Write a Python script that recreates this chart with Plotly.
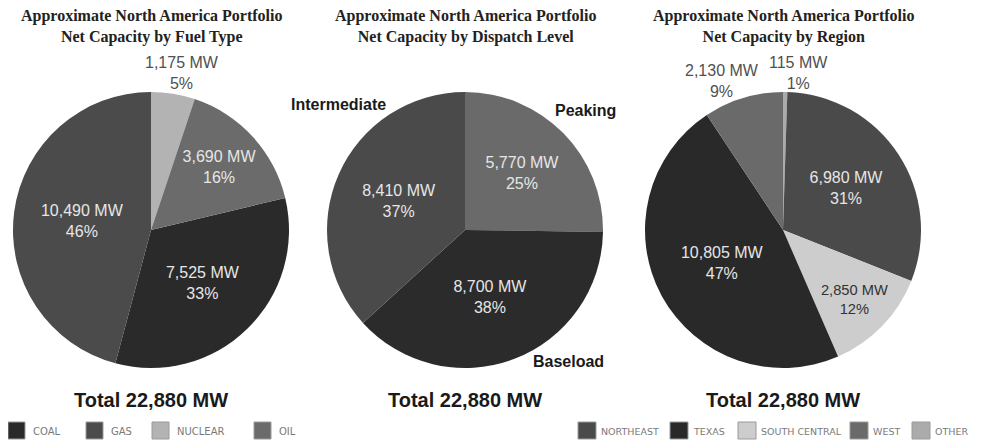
import plotly.graph_objects as go

# ---------------- data ----------------
fuel_labels = ["COAL", "GAS", "NUCLEAR", "OIL"]
fuel_mw = [7525, 10490, 1175, 3690]
fuel_colors = ["#2a2a2a", "#4b4b4b", "#b3b3b3", "#6b6b6b"]
fuel_textpos = ["inside", "inside", "none", "inside"]

dispatch_labels = ["Peaking", "Baseload", "Intermediate"]
dispatch_mw = [5770, 8700, 8410]
dispatch_colors = ["#6a6a6a", "#2b2b2b", "#4a4a4a"]

region_labels = ["OTHER", "NORTHEAST", "SOUTH CENTRAL", "TEXAS", "WEST"]
region_mw = [115, 6980, 2850, 10805, 2130]
region_colors = ["#ababab", "#4a4a4a", "#cdcdcd", "#292929", "#6a6a6a"]
region_textpos = ["none", "inside", "inside", "inside", "none"]
region_legend_order = ["NORTHEAST", "TEXAS", "SOUTH CENTRAL", "WEST", "OTHER"]

titles = [
    "Approximate North America Portfolio<br>Net Capacity by Fuel Type",
    "Approximate North America Portfolio<br>Net Capacity by Dispatch Level",
    "Approximate North America Portfolio<br>Net Capacity by Region",
]
total_text = "Total {:,} MW".format(sum(fuel_mw))

# ---------------- layout geometry (screen pixels) ----------------
OFF = 8                     # default page margin around the plot div
W, H = 982 - OFF, 440 - OFF  # figure size
R = 138
CY = 230
CX = [151, 465, 783]
legend1_x = [8, 86, 152, 254]
legend2_x = [578, 670, 738, 850, 912]
# positions of labels drawn beside small slices and of dispatch category names
outside_pos = {("fuel", "NUCLEAR"): (182, 73),
               ("region", "WEST"): (722, 81),
               ("region", "OTHER"): (798, 73)}
cat_pos = {"Intermediate": (338, 104), "Peaking": (585, 110), "Baseload": (568, 361)}


def px(x):
    return (x - OFF) / W


def py(y):
    return 1 - (y - OFF) / H


def dom(cx):
    return dict(x=[px(cx - R), px(cx + R)], y=[py(CY + R), py(CY - R)])


tmpl = "%{value:,} MW<br>%{percent:.0%}"
sans = "Liberation Sans, Arial, sans-serif"
in_light = "#e6e6e6"

fig = go.Figure()

# Pie 1: fuel type; nuclear slice starts at 12 o'clock
rot1 = 360 * (fuel_mw[2] + fuel_mw[3]) / sum(fuel_mw)
fig.add_trace(go.Pie(
    labels=fuel_labels, values=fuel_mw, sort=False, direction="clockwise",
    rotation=rot1, domain=dom(CX[0]),
    marker=dict(colors=fuel_colors, line=dict(width=0)),
    texttemplate=tmpl, textposition=fuel_textpos,
    insidetextorientation="horizontal",
    insidetextfont=dict(family=sans, size=16, color=in_light),
    showlegend=False,
))

# Pie 2: dispatch level
fig.add_trace(go.Pie(
    labels=dispatch_labels, values=dispatch_mw, sort=False, direction="clockwise",
    rotation=0, domain=dom(CX[1]),
    marker=dict(colors=dispatch_colors, line=dict(width=0)),
    texttemplate=tmpl, textposition="inside",
    insidetextorientation="horizontal",
    insidetextfont=dict(family=sans, size=16, color=in_light),
    showlegend=False,
))

# Pie 3: region
fig.add_trace(go.Pie(
    labels=region_labels, values=region_mw, sort=False, direction="clockwise",
    rotation=0, domain=dom(CX[2]),
    marker=dict(colors=region_colors, line=dict(width=0)),
    texttemplate=tmpl, textposition=region_textpos,
    insidetextorientation="horizontal",
    insidetextfont=dict(family=sans, size=16,
                        color=[in_light, in_light, "#333333", in_light, in_light]),
    showlegend=False,
))

annotations = []
for cx, t in zip(CX, titles):
    annotations.append(dict(
        x=px(cx), y=py(26.5), xref="paper", yref="paper", text="<b>" + t + "</b>",
        showarrow=False, xanchor="center", yanchor="middle",
        font=dict(family="Liberation Serif, Times New Roman, serif", size=16, color="#222222"),
    ))
    annotations.append(dict(
        x=px(cx), y=py(400), xref="paper", yref="paper", text="<b>" + total_text + "</b>",
        showarrow=False, xanchor="center", yanchor="middle",
        font=dict(family=sans, size=20, color="#1a1a1a"),
    ))

# labels of the small slices, placed above the pie
groups = {"fuel": (fuel_labels, fuel_mw), "region": (region_labels, region_mw)}
for (g, lab), (lx, ly) in outside_pos.items():
    labels, vals = groups[g]
    v = vals[labels.index(lab)]
    pct = max(round(100 * v / sum(vals)), 1)
    annotations.append(dict(
        x=px(lx), y=py(ly), xref="paper", yref="paper",
        text="{:,} MW<br>{}%".format(v, pct),
        showarrow=False, xanchor="center", yanchor="middle",
        font=dict(family=sans, size=16, color="#505050"),
    ))

for lab in dispatch_labels:
    lx, ly = cat_pos[lab]
    annotations.append(dict(
        x=px(lx), y=py(ly), xref="paper", yref="paper", text="<b>" + lab + "</b>",
        showarrow=False, xanchor="center", yanchor="middle",
        font=dict(family=sans, size=16, color="#1a1a1a"),
    ))

# ---------------- legends (swatch + label) ----------------
shapes = []


def add_legend(xs, labels, colors, sw, gap, fsize):
    font = dict(family="DejaVu Sans, Verdana, sans-serif", size=fsize, color="#7a7a7a")
    for x0, lab, col in zip(xs, labels, colors):
        shapes.append(dict(
            type="rect", xref="paper", yref="paper",
            x0=px(x0), x1=px(x0 + sw), y0=py(439), y1=py(422),
            fillcolor=col, line=dict(color="#9a9a9a", width=1),
        ))
        annotations.append(dict(
            x=px(x0 + sw + gap), y=py(431), xref="paper", yref="paper", text=lab,
            showarrow=False, xanchor="left", yanchor="middle", font=font,
        ))


add_legend(legend1_x, fuel_labels, fuel_colors, 17, 6, 10)
add_legend(legend2_x, region_legend_order,
           [region_colors[region_labels.index(l)] for l in region_legend_order], 18, 3, 9.5)

fig.update_layout(
    width=W, height=H,
    margin=dict(l=0, r=0, t=0, b=0, autoexpand=False),
    paper_bgcolor="white", plot_bgcolor="white",
    annotations=annotations, shapes=shapes,
    showlegend=False,
)

fig.write_html("out.html")
